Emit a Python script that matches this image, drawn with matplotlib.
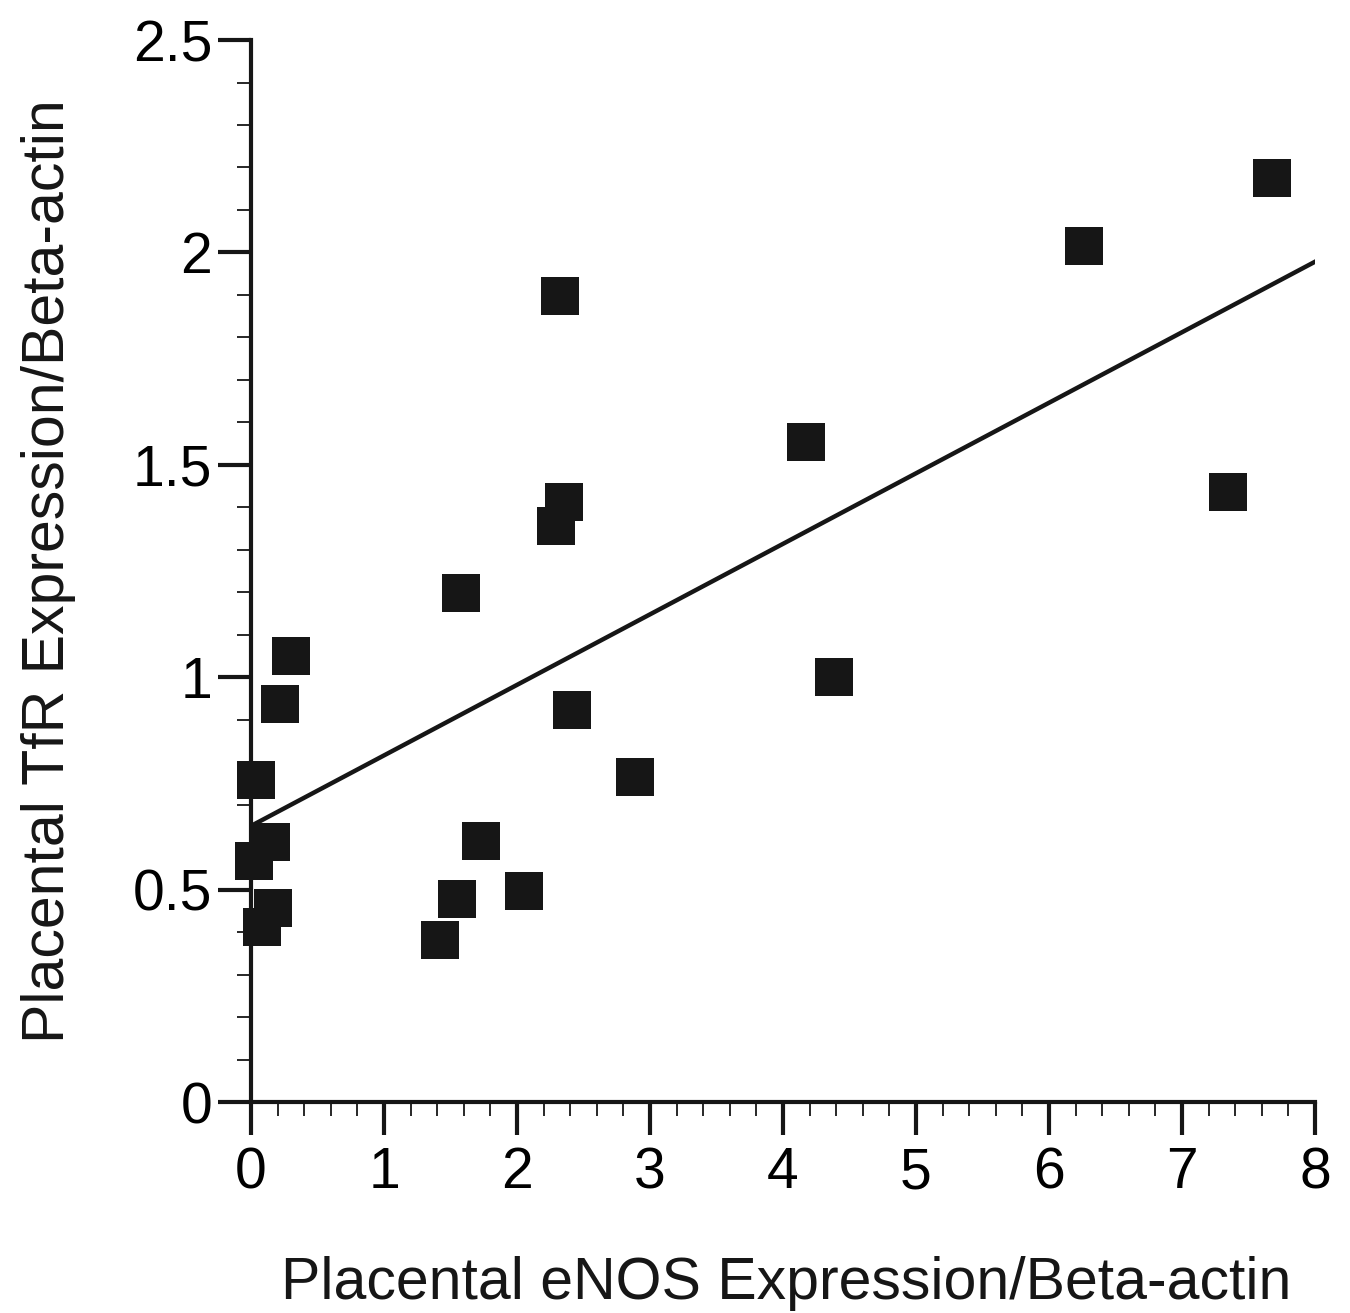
import numpy as np
import matplotlib
matplotlib.use("Agg")
import matplotlib.pyplot as plt
from matplotlib.ticker import MultipleLocator

plt.rcParams['font.family'] = ['Liberation Sans', 'DejaVu Sans']

# eNOS / beta-actin (x) vs TfR / beta-actin (y)
enos = [0.30, 0.22, 0.04, 0.15, 0.02, 0.165, 0.08,
        2.35, 2.29, 1.58, 2.41, 2.89, 1.73, 2.05, 1.55, 1.42,
        2.32, 4.17, 4.38, 6.26, 7.35, 7.68]
tfr = [1.05, 0.938, 0.758, 0.611, 0.568, 0.457, 0.413,
       1.413, 1.356, 1.199, 0.922, 0.766, 0.614, 0.496, 0.477, 0.381,
       1.897, 1.554, 1.0, 2.015, 1.436, 2.175]

# regression line as drawn (intercept, slope)
line_x = [0.0, 8.0]
fit_b, fit_m = 0.65, 0.166

fig = plt.figure(figsize=(13.5, 13.13), dpi=100)
ax = fig.add_axes([0.186, 0.1607, 0.788, 0.8088])

ax.plot(enos, tfr, 's', color='#161616', markersize=28, markeredgewidth=0,
        zorder=3, clip_on=False)
lx = np.array(line_x)
ax.plot(lx, fit_b + fit_m * lx, color='#161616', lw=3.2, zorder=2)

ax.set_xlim(0, 8)
ax.set_ylim(0, 2.5)
for s in ['top', 'right']:
    ax.spines[s].set_visible(False)
for s in ['left', 'bottom']:
    ax.spines[s].set_linewidth(3)
    ax.spines[s].set_color('#161616')

ax.xaxis.set_major_locator(MultipleLocator(1))
ax.xaxis.set_minor_locator(MultipleLocator(0.2))
ax.yaxis.set_minor_locator(MultipleLocator(0.1))
ax.set_yticks([0, 0.5, 1, 1.5, 2, 2.5])
ax.set_yticklabels(['0', '0.5', '1', '1.5', '2', '2.5'])

ax.tick_params(which='major', length=24, width=3, color='#161616', labelsize=41, direction='out')
ax.tick_params(which='minor', length=10, width=1.3, color='#161616', direction='out')
ax.tick_params(axis='x', which='major', pad=8)
ax.tick_params(axis='y', which='major', pad=4)

ax.set_xlabel('Placental eNOS Expression/Beta-actin', fontsize=42.5, color='#161616')
ax.set_ylabel('Placental TfR Expression/Beta-actin', fontsize=42.5, color='#161616')
ax.xaxis.set_label_coords(0.503, -0.145)
ax.yaxis.set_label_coords(-0.165, 0.5)

fig.savefig('out.png', dpi=100)
